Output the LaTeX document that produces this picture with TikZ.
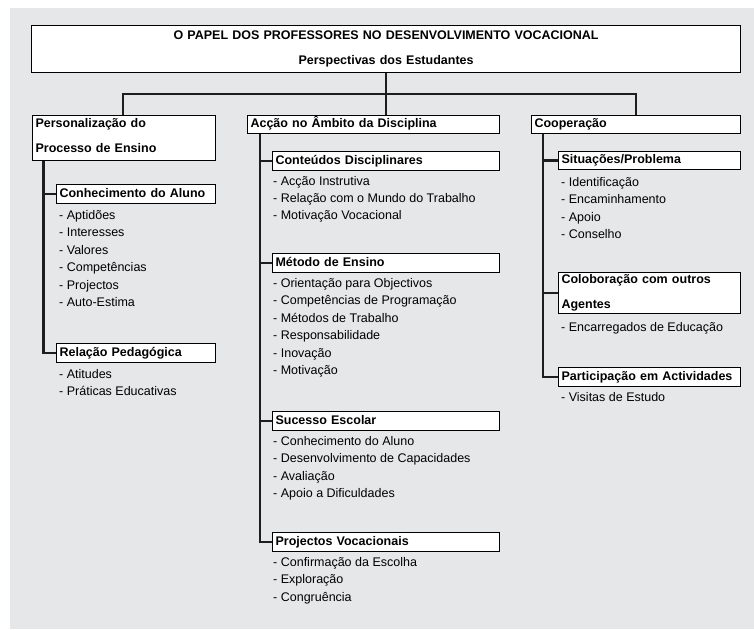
\documentclass[tikz,border=0pt]{standalone}
\usepackage{fontspec}
\setmainfont{Liberation Sans}
\usetikzlibrary{shadows}
\definecolor{bgc}{HTML}{E6E7E8}
\definecolor{linec}{HTML}{1E1E1E}
\tikzset{
  hbox/.style={draw=black, line width=1.1pt, fill=white, anchor=north west,
    inner xsep=3pt, inner ysep=0pt, font=\fontsize{12.5}{25}\selectfont\bfseries, align=left,
    drop shadow={shadow xshift=0.9pt, shadow yshift=-0.9pt, fill=black!55, opacity=1}},
  one/.style={text height=9pt, text depth=2.6pt},
  item/.style={anchor=base west, inner sep=0pt, font=\fontsize{12.5}{15}\selectfont},
  conn/.style={draw=linec, line width=2.8pt, line join=miter},
}
\begin{document}
\begin{tikzpicture}[x=1pt, y=-1pt]
\useasboundingbox (0,0) rectangle (754,629);
\fill[bgc] (10,8) rectangle (754,629);

% title
\node[hbox, align=center, text width=703pt, minimum height=47pt] (title) at (31,25)
  {O PAPEL DOS PROFESSORES NO DESENVOLVIMENTO VOCACIONAL\\Perspectivas dos Estudantes};

% top level boxes
\node[hbox, text width=177pt, minimum height=45pt] (p) at (32,115) {Personalização do\\Processo de Ensino\rule[-5pt]{0pt}{0pt}};
\node[hbox, one, text width=246pt, minimum height=18pt] (a) at (247,115) {Acção no Âmbito da Disciplina};
\node[hbox, one, text width=203pt, minimum height=18pt] (c) at (531,115) {Cooperação};

% left column
\node[hbox, one, text width=153pt, minimum height=19pt] (ca) at (56,184) {Conhecimento do Aluno};
\node[hbox, one, text width=153pt, minimum height=19pt] (rp) at (56,343) {Relação Pedagógica};

% middle column
\node[hbox, one, text width=221pt, minimum height=19pt] (cd) at (272,151) {Conteúdos Disciplinares};
\node[hbox, one, text width=221pt, minimum height=19pt] (me) at (272,253) {Método de Ensino};
\node[hbox, one, text width=221pt, minimum height=19pt] (se) at (272,411) {Sucesso Escolar};
\node[hbox, one, text width=221pt, minimum height=19pt] (pv) at (272,532) {Projectos Vocacionais};

% right column
\node[hbox, one, text width=176pt, minimum height=18pt] (sp) at (558,151) {Situações/Problema};
\node[hbox, text width=176pt, minimum height=41pt] (co) at (558,272) {Coloboração com outros\\Agentes};
\node[hbox, one, text width=176pt, minimum height=19pt] (pa) at (558,367) {Participação em Actividades};

% items left
\node[item] (l1) at (59,219.5) {- Aptidões};
\node[item] (l2) at (59,236.9) {- Interesses};
\node[item] (l3) at (59,254.3) {- Valores};
\node[item] (l4) at (59,271.7) {- Competências};
\node[item] (l5) at (59,289.1) {- Projectos};
\node[item] (l6) at (59,306.5) {- Auto-Estima};
\node[item] (l7) at (59,378.3) {- Atitudes};
\node[item] (l8) at (59,395.7) {- Práticas Educativas};

% items middle
\node[item] (m1) at (273,185) {- Acção Instrutiva};
\node[item] (m2) at (273,202.4) {- Relação com o Mundo do Trabalho};
\node[item] (m3) at (273,219.8) {- Motivação Vocacional};
\node[item] (m4) at (273,287.5) {- Orientação para Objectivos};
\node[item] (m5) at (273,304.9) {- Competências de Programação};
\node[item] (m6) at (273,322.3) {- Métodos de Trabalho};
\node[item] (m7) at (273,339.7) {- Responsabilidade};
\node[item] (m8) at (273,357.1) {- Inovação};
\node[item] (m9) at (273,374.5) {- Motivação};
\node[item] (m10) at (273,445.5) {- Conhecimento do Aluno};
\node[item] (m11) at (273,462.9) {- Desenvolvimento de Capacidades};
\node[item] (m12) at (273,480.3) {- Avaliação};
\node[item] (m13) at (273,497.7) {- Apoio a Dificuldades};
\node[item] (m14) at (273,566.5) {- Confirmação da Escolha};
\node[item] (m15) at (273,583.9) {- Exploração};
\node[item] (m16) at (273,601.3) {- Congruência};

% items right
\node[item] (r1) at (561,186.5) {- Identificação};
\node[item] (r2) at (561,203.9) {- Encaminhamento};
\node[item] (r3) at (561,221.3) {- Apoio};
\node[item] (r4) at (561,238.7) {- Conselho};
\node[item] (r5) at (561,331.5) {- Encarregados de Educação};
\node[item] (r6) at (561,401.5) {- Visitas de Estudo};

% connector anchors
\coordinate (hL) at (123,94);
\coordinate (hR) at (636,94);
\coordinate (sL) at (43.5,0);
\coordinate (sM) at (260,0);
\coordinate (sR) at (543,0);

% top connectors
\draw[conn] (title.south) -- (title.south |- hL);
\draw[conn] (hL |- p.north) -- (hL) -- (hR) -- (hR |- c.north);
\draw[conn] (title.south |- hL) -- (title.south |- a.north);

% left spine
\draw[conn] (sL |- p.south) |- (rp.west);
\draw[conn] (sL |- ca.west) -- (ca.west);

% middle spine
\draw[conn] (sM |- a.south) |- (pv.west);
\draw[conn] (sM |- cd.west) -- (cd.west);
\draw[conn] (sM |- me.west) -- (me.west);
\draw[conn] (sM |- se.west) -- (se.west);

% right spine
\draw[conn] (sR |- c.south) |- (pa.west);
\draw[conn] (sR |- sp.west) -- (sp.west);
\draw[conn] (sR |- co.west) -- (co.west);
\end{tikzpicture}
\end{document}
